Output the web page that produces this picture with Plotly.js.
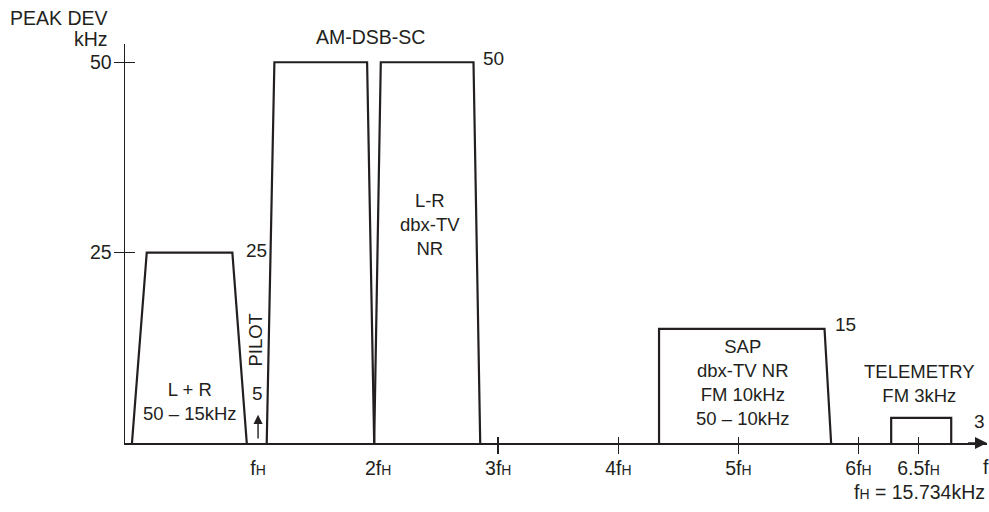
<!DOCTYPE html>
<html>
<head>
<meta charset="utf-8">
<script src="https://cdn.plot.ly/plotly-3.0.1.min.js"></script>
<style>html,body{margin:0;padding:0;background:#fff;}#chart{width:989px;height:512px;}</style>
</head>
<body>
<div id="chart"></div>
<script>
// ---- data (x in multiples of fH, y = peak deviation in kHz) ----
const tickMultipliers = ['', '2', '3', '4', '5', '6', '6.5'];
const tickVals = [1, 2, 3, 4, 5, 6, 6.5];
const tickMarkVals = [3, 4, 5, 6, 6.5];
const yTickVals = [25, 50];

const lrX = [-0.05, 0.073, 0.786, 0.906];
const lrY = [0, 25, 25, 0];
const dsbLowerX = [1.072, 1.136, 1.908, 1.967];
const dsbLowerY = [0, 50, 50, 0];
const dsbUpperX = [1.967, 2.022, 2.794, 2.85];
const dsbUpperY = [0, 50, 50, 0];
const sapX = [4.339, 4.339, 5.717, 5.772];
const sapY = [0, 15, 15, 0];
const telX = [6.272, 6.272, 6.772, 6.772];
const telY = [0, 3.3, 3.3, 0];

const pilotX = 1;
const pilotLevel = 5;

const INK = '#231f20';
const FONT = 'Liberation Sans, Arial, Helvetica, sans-serif';
const BIG = 19.5, MID = 19, SMALL = 18.5;
const fh = m => m + 'f<span style="font-size:14px">H</span>';
const tickText = tickMultipliers.map(fh);

function band(x, y) {
  return {x: x, y: y, type: 'scatter', mode: 'lines',
    line: {color: INK, width: 2.2}, hoverinfo: 'skip', showlegend: false,
    xaxis: 'x', yaxis: 'y'};
}
const traces = [
  band(lrX, lrY), band(dsbLowerX, dsbLowerY), band(dsbUpperX, dsbUpperY),
  band(sapX, sapY), band(telX, telY),
  {x: [], y: [], type: 'scatter', mode: 'lines', xaxis: 'x2', yaxis: 'y', showlegend: false, hoverinfo: 'skip'},
  {x: [], y: [], type: 'scatter', mode: 'lines', xaxis: 'x3', yaxis: 'y', showlegend: false, hoverinfo: 'skip'},
  {x: [], y: [], type: 'scatter', mode: 'lines', xaxis: 'x', yaxis: 'y2', showlegend: false, hoverinfo: 'skip'}
];

const xr = [-0.108, 7.07];
const yr = [0, 52.4];
const baseAx = {range: xr, showgrid: false, zeroline: false, fixedrange: true};

function txt(text, x, y, size, opts) {
  return Object.assign({text: text, x: x, y: y, xref: 'x', yref: 'y', showarrow: false,
    xanchor: 'center', yanchor: 'middle', font: {family: FONT, size: size, color: INK}}, opts || {});
}
const py = v => v / yr[1]; // y value -> paper fraction

const annotations = [
  txt('PEAK DEV', -0.0174, 1.065, BIG, {xref: 'paper', yref: 'paper', xanchor: 'right'}),
  txt('kHz', -0.0174, 1.012, BIG, {xref: 'paper', yref: 'paper', xanchor: 'right'}),
  txt('AM-DSB-SC', 1.94, py(53.3), BIG, {yref: 'paper'}),
  txt('L-R<br>dbx-TV<br>NR', 2.43, 28.7, SMALL),
  txt('L + R<br>50 \u2013 15kHz', 0.43, 5.49, SMALL),
  txt('PILOT', 0.975, 13.46, SMALL, {textangle: -90}),
  txt(String(pilotLevel), 0.994, 6.53, MID),
  txt(String(lrY[1]), 0.883, 25.25, MID, {xanchor: 'left'}),
  txt(String(dsbUpperY[1]), 2.856, 50.5, MID, {xanchor: 'left'}),
  txt(String(sapY[1]), 5.79, 15.5, MID, {xanchor: 'left'}),
  txt('3', 6.945, 2.8, MID, {xanchor: 'left'}),
  txt('SAP<br>dbx-TV NR<br>FM 10kHz<br>50 \u2013 10kHz', 5.04, 7.94, SMALL),
  txt('TELEMETRY<br>FM 3kHz', 6.508, 7.79, SMALL),
  txt('f', 7.058, py(-3.15), BIG, {yref: 'paper'}),
  txt(fh('') + ' = 15.734kHz', 1.0003, -0.122, BIG, {xref: 'paper', yref: 'paper', xanchor: 'right'}),
  // pilot arrow
  {x: pilotX, y: 3.7, ax: pilotX, ay: 0.4, xref: 'x', yref: 'y', axref: 'x', ayref: 'y',
   showarrow: true, arrowhead: 2, arrowsize: 1.3, arrowwidth: 1.4, arrowcolor: INK, text: ''},
  // x-axis arrow
  {x: 7.07, y: 0, ax: 6.9, ay: 0, xref: 'x', yref: 'y', axref: 'x', ayref: 'y',
   showarrow: true, arrowhead: 2, arrowsize: 1.6, arrowwidth: 1.5, arrowcolor: INK, text: ''}
];

const layout = {
  width: 989, height: 512,
  margin: {l: 125, r: 2, t: 44, b: 69, pad: 0},
  paper_bgcolor: '#fff', plot_bgcolor: '#fff',
  showlegend: false,
  font: {family: FONT, size: BIG, color: INK},
  xaxis: Object.assign({}, baseAx, {
    showline: true, linecolor: INK, linewidth: 1.5,
    tickmode: 'array', tickvals: tickVals, ticktext: tickText, ticks: '',
    ticklabelstandoff: 7, tickfont: {family: FONT, size: BIG, color: INK}
  }),
  xaxis2: Object.assign({}, baseAx, {
    overlaying: 'x', anchor: 'y', side: 'bottom', showline: false,
    tickmode: 'array', tickvals: tickMarkVals, ticks: 'outside', ticklen: 10,
    tickwidth: 1.5, tickcolor: INK, showticklabels: false
  }),
  xaxis3: Object.assign({}, baseAx, {
    overlaying: 'x', anchor: 'y', side: 'bottom', showline: false,
    tickmode: 'array', tickvals: tickMarkVals, ticks: 'inside', ticklen: 6,
    tickwidth: 1.5, tickcolor: INK, showticklabels: false
  }),
  yaxis: {
    range: yr, showgrid: false, zeroline: false, fixedrange: true,
    showline: true, linecolor: INK, linewidth: 1.5,
    tickmode: 'array', tickvals: yTickVals, ticks: 'outside', ticklen: 10,
    tickwidth: 1.5, tickcolor: INK, ticklabelstandoff: -2,
    tickfont: {family: FONT, size: BIG, color: INK}
  },
  yaxis2: {
    range: yr, showgrid: false, zeroline: false, fixedrange: true,
    overlaying: 'y', anchor: 'x', side: 'left', showline: false,
    tickmode: 'array', tickvals: yTickVals, ticks: 'inside', ticklen: 10,
    tickwidth: 1.5, tickcolor: INK, showticklabels: false
  },
  annotations: annotations
};

Plotly.newPlot('chart', traces, layout, {staticPlot: true, displayModeBar: false});
</script>
</body>
</html>
